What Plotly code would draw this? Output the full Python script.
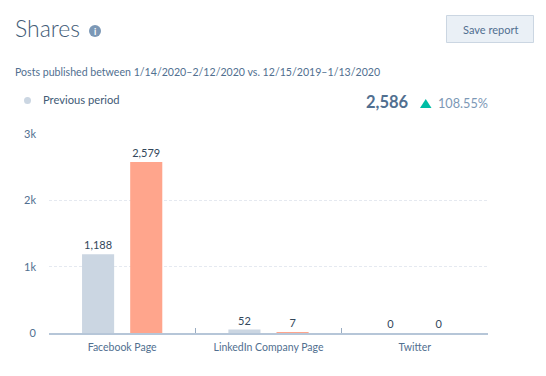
import plotly.graph_objects as go

categories = ["Facebook Page", "LinkedIn Company Page", "Twitter"]
previous_period = [1188, 52, 0]
current_period = [2579, 7, 0]
y_ticks = [0, 1000, 2000, 3000]
y_tick_labels = ["0", "1k", "2k", "3k"]

W, H = 546, 376
L, R, T, B = 49, 488, 134, 333
FONT = "Lato"
DARK = "#33475b"
MID = "#516f90"


def px(x):
    return (x - L) / (R - L)


def py(y):
    return (B - y) / (B - T)


fig = go.Figure()
for name, vals, col in [("Previous period", previous_period, "#cbd6e2"),
                        ("Current period", current_period, "#ffa58c")]:
    fig.add_trace(go.Bar(
        x=categories, y=vals, name=name, marker=dict(color=col, line_width=0),
        text=[f"{v:,}" for v in vals], textposition="outside",
        textfont=dict(family=FONT, size=11, color=DARK), cliponaxis=False,
        showlegend=False,
    ))


def label(x, y, text, size, color, anchor="left", weight=400):
    fig.add_annotation(xref="paper", yref="paper", x=px(x), y=py(y), text=text,
                       showarrow=False, xanchor=anchor, yanchor="middle",
                       font=dict(family=FONT, size=size, color=color, weight=weight),
                       borderpad=0, borderwidth=0)


label(15, 28, "Shares", 23, "#425b76", weight=300)
label(95, 31, "<b>i</b>", 9, "#ffffff", "center")
label(15, 72, "Posts published between 1/14/2020–2/12/2020 vs. 12/15/2019–1/13/2020", 10.6, MID)
label(43, 100, "Previous period", 11.2, "#425b76")
label(409, 102, "<b>2,586</b>", 16.5, MID, "right")
label(488, 103, "108.55%", 12.7, "#7c98b6", "right")
label(490.5, 29, "Save report", 11, MID, "center")

shapes = [
    dict(type="rect", xref="paper", yref="paper", x0=px(446.5), x1=px(533.5), y0=py(15.5), y1=py(42.5),
         fillcolor="#eaf0f6", line=dict(color="#cbd6e2", width=1)),
    dict(type="circle", xref="paper", yref="paper", x0=px(89), x1=px(101), y0=py(37), y1=py(25),
         fillcolor="#7c98b6", line_width=0),
    dict(type="circle", xref="paper", yref="paper", x0=px(24), x1=px(31), y0=py(104), y1=py(97),
         fillcolor="#cbd6e2", line_width=0),
    dict(type="path", xref="paper", yref="paper",
         path=f"M {px(420)} {py(108)} L {px(431.5)} {py(108)} L {px(425.75)} {py(99)} Z",
         fillcolor="#00bda5", line_width=0),
]
fig.update_layout(
    width=W, height=H, autosize=False,
    margin=dict(l=L, r=W - R, t=T, b=H - B, pad=0),
    paper_bgcolor="#ffffff", plot_bgcolor="#ffffff",
    barmode="group", bargap=0.342, bargroupgap=1 / 3,
    font=dict(family=FONT, color=MID),
    shapes=shapes,
    xaxis=dict(type="category", tickson="boundaries", ticks="inside", ticklen=5, tickwidth=1,
               tickcolor="#99acc2", showline=True, linecolor="#b6c6d8", linewidth=2,
               showgrid=False, tickfont=dict(family=FONT, size=10.5, color=MID), ticklabelstandoff=3,
               fixedrange=True),
    yaxis=dict(range=[0, 3000], tickvals=y_ticks, ticktext=y_tick_labels,
               showgrid=True, gridcolor="#e5e9f0", griddash="3px,2px", gridwidth=1,
               zeroline=False, ticks="", showline=False, ticklabelstandoff=12,
               tickfont=dict(family=FONT, size=11, color=MID), fixedrange=True),
)
fig.write_html("out.html", config=dict(displayModeBar=False),
               post_script="document.body.style.margin='0';document.documentElement.style.overflow='hidden';")
